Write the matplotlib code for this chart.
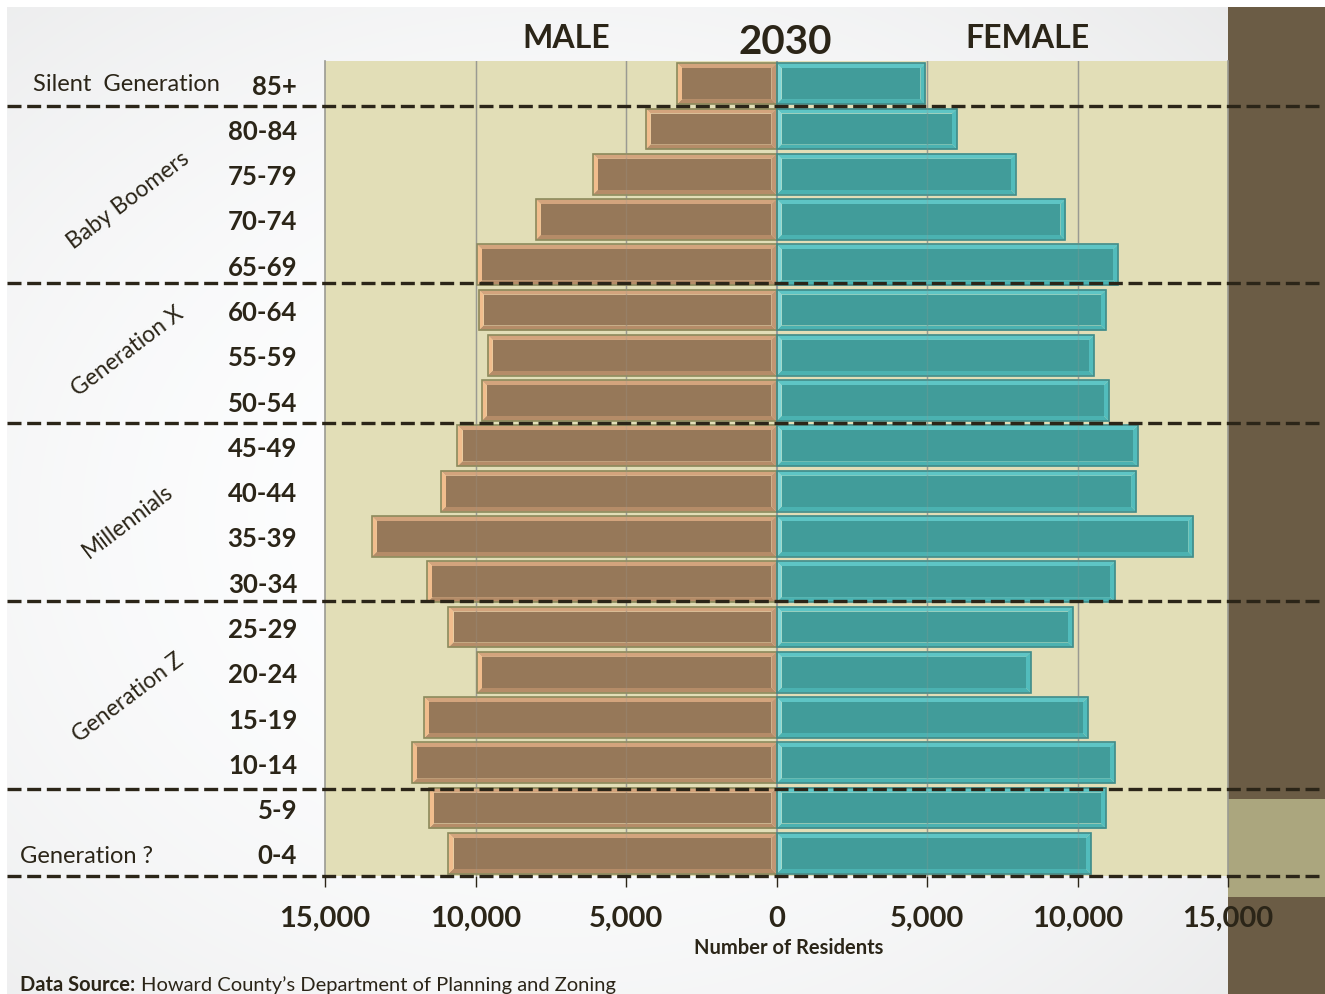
import numpy as np
import matplotlib
matplotlib.use("Agg")
from matplotlib import pyplot as plt
from matplotlib.patches import Rectangle, Polygon
from matplotlib.transforms import blended_transform_factory

plt.rcParams['font.family'] = ['Lato', 'DejaVu Sans']

ages = ['0-4', '5-9', '10-14', '15-19', '20-24', '25-29', '30-34', '35-39', '40-44',
        '45-49', '50-54', '55-59', '60-64', '65-69', '70-74', '75-79', '80-84', '85+']
male = [10900, 11550, 12100, 11700, 9950, 10900, 11600, 13450, 11150,
        10600, 9800, 9600, 9900, 9950, 8000, 6100, 4350, 3300]
female = [10450, 10950, 11250, 10350, 8450, 9850, 11250, 13850, 11950,
          12000, 11050, 10550, 10950, 11350, 9600, 7950, 6000, 4950]

# generation bands: separators between rows, label, label row, rotation
boundaries = [1.43, 5.57, 9.5, 12.6, 16.5]
generations = [('Silent  Generation', 17.0, 0), ('Baby Boomers', 14.45, 37),
               ('Generation X', 11.1, 37), ('Millennials', 7.35, 37),
               ('Generation Z', 3.45, 37), ('Generation ?', -0.05, 0)]

xticks = [-15000, -10000, -5000, 0, 5000, 10000, 15000]
xticklabels = ['15,000', '10,000', '5,000', '0', '5,000', '10,000', '15,000']

DARK = '#2b2518'
MALE_COLORS = {'face': '#967859', 'top': '#d3a47d', 'bottom': '#b58c68',
               'outer': '#f1bd8d', 'inner': '#c19673', 'edge': '#8c8a5c'}
FEMALE_COLORS = {'face': '#419c9a', 'top': '#5ec5c5', 'bottom': '#4bb2b1',
                 'outer': '#52bcbc', 'inner': '#7ed6d8', 'edge': '#3f8b89'}


def bevel_bar(ax, y, value, h, colors, dx=170, dy=0.11):
    # value sign gives direction; inner side sits at zero
    x0, x1 = (value, 0) if value < 0 else (0, value)
    y0, y1 = y - h / 2, y + h / 2
    ix0, ix1, iy0, iy1 = x0 + dx, x1 - dx, y0 + dy, y1 - dy
    left = colors['outer'] if value < 0 else colors['inner']
    right = colors['inner'] if value < 0 else colors['outer']
    faces = [
        ([(x0, y1), (x1, y1), (ix1, iy1), (ix0, iy1)], colors['top']),
        ([(x0, y0), (x1, y0), (ix1, iy0), (ix0, iy0)], colors['bottom']),
        ([(x0, y0), (ix0, iy0), (ix0, iy1), (x0, y1)], left),
        ([(x1, y0), (ix1, iy0), (ix1, iy1), (x1, y1)], right),
    ]
    for pts, c in faces:
        ax.add_patch(Polygon(pts, closed=True, facecolor=c, edgecolor='none', zorder=2))
    ax.add_patch(Rectangle((ix0, iy0), ix1 - ix0, iy1 - iy0, facecolor=colors['face'],
                           edgecolor='none', zorder=2))
    ax.add_patch(Rectangle((x0, y0), x1 - x0, y1 - y0, facecolor='none',
                           edgecolor=colors['edge'], lw=1.2, zorder=3))


fig = plt.figure(figsize=(13.25, 9.95), dpi=100)

# slide background with soft gradient
bg = fig.add_axes([0, 0, 1, 1], zorder=-10)
yy, xx = np.mgrid[0:995, 0:1325]
r = np.hypot((xx - 560) / 1000, (yy - 520) / 800)
shade = 1 - 0.09 * np.clip(r, 0, 1) ** 2
img = np.dstack([shade * 0.995, shade * 0.997, shade])
bg.imshow(img, extent=[0, 1325, 995, 0], aspect='auto')
bg.add_patch(Rectangle((0, 0), 1325, 8, facecolor='white', edgecolor='none'))
bg.add_patch(Rectangle((0, 0), 7, 995, facecolor='white', edgecolor='none'))
bg.add_patch(Rectangle((1228, 8), 97, 987, facecolor='#6b5c45', edgecolor='none'))
bg.add_patch(Rectangle((1228, 800), 97, 98, facecolor='#aba67e', edgecolor='none'))
bg.set_xlim(0, 1325)
bg.set_ylim(995, 0)
bg.axis('off')

ax = fig.add_axes([325 / 1325, 1 - 877 / 995, 903 / 1325, 815 / 995])
ax.set_facecolor('#e2deb7')
ax.set_xlim(-15000, 15000)
ax.set_ylim(-0.5, 17.5)

for x in [-10000, -5000, 5000, 10000]:
    ax.axvline(x, color='#9a9a92', lw=1.0, zorder=1)
    ax.axvline(x, color='#9a9a92', lw=1.0, alpha=0.25, zorder=4)
ax.axvline(0, color='#9a9a9a', lw=1.5, zorder=1)

ypos = np.arange(len(ages))
for y, m, f in zip(ypos, male, female):
    bevel_bar(ax, y, -m, 0.9, MALE_COLORS)
    bevel_bar(ax, y, f, 0.9, FEMALE_COLORS)

for s in ['top', 'bottom']:
    ax.spines[s].set_visible(False)
for s in ['left', 'right']:
    ax.spines[s].set_color('#9a9a92')
    ax.spines[s].set_linewidth(1.2)

ax.set_yticks(ypos)
ax.set_yticklabels(ages, fontsize=18.5, fontweight='bold', color=DARK)
ax.tick_params(axis='y', length=0, pad=20)
ax.set_xticks(xticks)
ax.set_xticklabels(xticklabels, fontsize=21, fontweight='bold', color=DARK)
ax.tick_params(axis='x', length=8, width=1, color=DARK, pad=13, direction='out')
ax.set_xlabel('Number of Residents', fontsize=14.5, fontweight='bold', color=DARK)
ax.xaxis.set_label_coords(0.513, -0.075)

# generation separators across the full slide
trans = blended_transform_factory(fig.transFigure, ax.transData)
for b in boundaries + [-0.5]:
    ax.plot([7 / 1325, 1], [b, b], transform=trans, color=DARK, lw=2.4,
            dashes=(4.2, 1.7), clip_on=False, zorder=6)

for label, y, rot in generations:
    if rot == 0:
        x = 33 if label.startswith('Silent') else 20
        ax.text(x / 1325, y, label, transform=trans, fontsize=17, color=DARK,
                ha='left', va='center')
    else:
        ax.text(128 / 1325, y, label, transform=trans, fontsize=16.5, color=DARK,
                ha='center', va='center', rotation=rot, rotation_mode='anchor')

fig.text(566 / 1325, 1 - 38 / 995, 'MALE', fontsize=23, fontweight='bold', color=DARK,
         ha='center', va='center')
fig.text(785 / 1325, 1 - 42 / 995, '2030', fontsize=29, fontweight='bold', color=DARK,
         ha='center', va='center')
fig.text(1027 / 1325, 1 - 38 / 995, 'FEMALE', fontsize=23, fontweight='bold', color=DARK,
         ha='center', va='center')

src = fig.text(20 / 1325, 1 - 985 / 995, 'Data Source:', fontsize=14.5, fontweight='bold',
               color=DARK, ha='left', va='center')
renderer = fig.canvas.get_renderer()
src_end = src.get_window_extent(renderer).x1
fig.text((src_end + 6) / 1325, 1 - 985 / 995,
         'Howard County\u2019s Department of Planning and Zoning',
         fontsize=14.5, color=DARK, ha='left', va='center')

fig.savefig('out.png', dpi=100)
